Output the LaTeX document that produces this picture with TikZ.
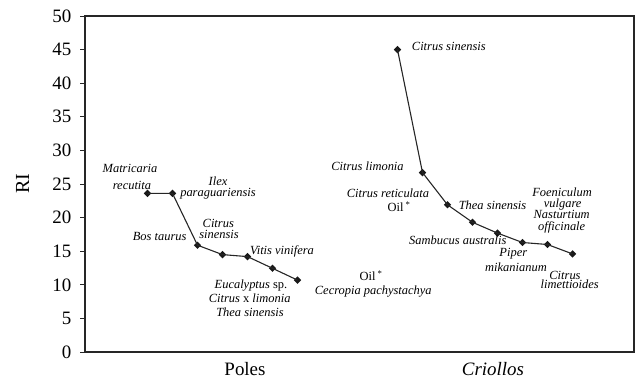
\documentclass[tikz,border=0pt]{standalone}
\usepackage{fontspec}
\setmainfont{Liberation Serif}
\usetikzlibrary{shapes.geometric}
\begin{document}
\begin{tikzpicture}[x=1bp,y=-1bp,
  pt/.style={diamond,fill=black!90,draw=none,inner sep=0pt,minimum size=7.5bp},
  conn/.style={draw=black!85,line width=1.1bp},
  lbl/.style={font=\fontsize{12.5}{13}\selectfont\itshape,inner sep=0pt,anchor=base},
  tick/.style={draw=black!85,line width=1bp},
  ticklbl/.style={font=\fontsize{19}{20}\selectfont,inner sep=0pt,anchor=east},
  axlbl/.style={font=\fontsize{19}{20}\selectfont,inner sep=0pt,anchor=base}]
\useasboundingbox (0,0) rectangle (639,381);
% frame
\draw[line width=1.1bp,draw=black!85] (85,16) rectangle (634,352);
% y ticks
\foreach \v in {0,5,...,50}{
  \coordinate (t\v) at (85,{352-6.72*\v});
  \draw[tick] (t\v) -- ++(-5,0);
  \node[ticklbl] (tl\v) at ([xshift=-13.5bp]t\v) {\v};
}
\node[font=\fontsize{20}{21}\selectfont,rotate=90,inner sep=0pt] (ri) at (22.5,184) {RI};
% Poles series
\node[pt] (a1) at (147.5,193.4) {};
\node[pt] (a2) at (172.5,193.4) {};
\node[pt] (a3) at (197.5,245.2) {};
\node[pt] (a4) at (222.5,254.6) {};
\node[pt] (a5) at (247.5,256.6) {};
\node[pt] (a6) at (272.5,268.3) {};
\node[pt] (a7) at (297.5,280.1) {};
\draw[conn] (a1.center) -- (a2.center) -- (a3.center) -- (a4.center) -- (a5.center) -- (a6.center) -- (a7.center);
% Criollos series
\node[pt] (b1) at (397.5,49.6) {};
\node[pt] (b2) at (422.5,172.6) {};
\node[pt] (b3) at (447.5,204.8) {};
\node[pt] (b4) at (472.5,222.3) {};
\node[pt] (b5) at (497.5,233.1) {};
\node[pt] (b6) at (522.5,242.5) {};
\node[pt] (b7) at (547.5,244.5) {};
\node[pt] (b8) at (572.5,253.9) {};
\draw[conn] (b1.center) -- (b2.center) -- (b3.center) -- (b4.center) -- (b5.center) -- (b6.center) -- (b7.center) -- (b8.center);
% Poles labels
\node[lbl] (l1a) at (130,172.7) {Matricaria};
\node[lbl] (l1b) at (132,189) {recutita};
\node[lbl] (l2a) at (218,185.5) {Ilex};
\node[lbl] (l2b) at (218,196) {paraguariensis};
\node[lbl] (l3) at (159.7,240) {Bos taurus};
\node[lbl] (l4a) at (218.3,227.3) {Citrus};
\node[lbl] (l4b) at (219,238.3) {sinensis};
\node[lbl] (l5) at (282,254) {Vitis vinifera};
\node[lbl] (l6a) at (251,288) {Eucalyptus {\upshape sp.}};
\node[lbl] (l6b) at (249.7,302.7) {Citrus {\upshape x} limonia};
\node[lbl] (l6c) at (250,316) {Thea sinensis};
\node[lbl,font=\fontsize{12.5}{13}\selectfont] (l7a) at (371,280.7) {Oil\,\textsuperscript{*}};
\node[lbl] (l7b) at (373.3,294) {Cecropia pachystachya};
% Criollos labels
\node[lbl] (m1) at (448.8,50) {Citrus sinensis};
\node[lbl] (m2) at (367.5,170) {Citrus limonia};
\node[lbl] (m3a) at (388,197) {Citrus reticulata};
\node[lbl,font=\fontsize{12.5}{13}\selectfont] (m3b) at (399,211.7) {Oil\,\textsuperscript{*}};
\node[lbl] (m4) at (492.5,209) {Thea sinensis};
\node[lbl] (m5a) at (562,196) {Foeniculum};
\node[lbl] (m5b) at (562.7,207.3) {vulgare};
\node[lbl] (m5c) at (561.7,218.5) {Nasturtium};
\node[lbl] (m5d) at (561.7,230) {officinale};
\node[lbl] (m6) at (457.8,244.3) {Sambucus australis};
\node[lbl] (m7a) at (513.3,256.7) {Piper};
\node[lbl] (m7b) at (516,271) {mikanianum};
\node[lbl] (m8a) at (565,279.3) {Citrus};
\node[lbl] (m8b) at (569.7,288) {limettioides};
% axis labels
\node[axlbl] (xp) at (245,375.7) {Poles};
\node[axlbl,font=\fontsize{19}{20}\selectfont\itshape] (xc) at (493,375.7) {Criollos};
\end{tikzpicture}
\end{document}
